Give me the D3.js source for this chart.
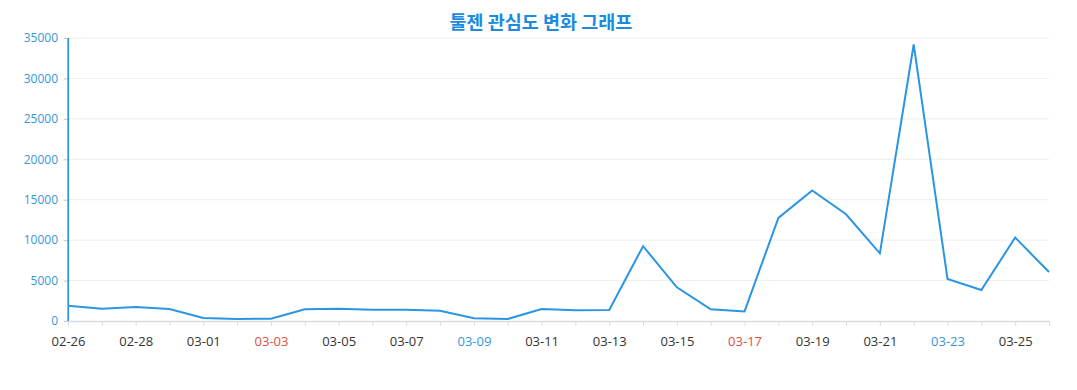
<!DOCTYPE html>
<html>
<head>
<meta charset="utf-8">
<script src="https://cdn.jsdelivr.net/npm/d3@7/dist/d3.min.js"></script>
<style>
  body { margin: 0; background: #fff; }
  svg { display: block; }
</style>
</head>
<body>
<svg id="chart" width="1077" height="390"></svg>
<script>
const titleText = "툴젠 관심도 변화 그래프";
const dates = ["02-26","02-27","02-28","02-29","03-01","03-02","03-03","03-04","03-05","03-06",
               "03-07","03-08","03-09","03-10","03-11","03-12","03-13","03-14","03-15","03-16",
               "03-17","03-18","03-19","03-20","03-21","03-22","03-23","03-24","03-25","03-26"];
const values = [1880,1520,1730,1480,370,260,280,1450,1500,1400,
                1380,1280,330,250,1480,1320,1370,9250,4170,1450,
                1180,12750,16150,13200,8370,34200,5200,3830,10320,6060];
const yTicks = [0,5000,10000,15000,20000,25000,30000,35000];
const redLabels = ["03-03","03-17"];
const blueLabels = ["03-09","03-23"];

const svg = d3.select("#chart");
const m = {left: 68, right: 1049, top: 38, bottom: 321};
const font = "'Open Sans', 'Noto Sans', sans-serif";

const x = d3.scalePoint().domain(dates).range([m.left, m.right]);
const y = d3.scaleLinear().domain([0, 35000]).range([m.bottom, m.top]);

// title
svg.append("text")
  .attr("x", 541).attr("y", 29)
  .attr("text-anchor", "middle")
  .attr("font-family", "'Noto Sans CJK KR', sans-serif")
  .attr("font-weight", "bold")
  .attr("font-size", 18.5)
  .attr("fill", "#1b8be0")
  .text(titleText);

// grid
svg.append("g").selectAll("line").data(yTicks.filter(d => d > 0)).join("line")
  .attr("x1", m.left).attr("x2", m.right)
  .attr("y1", d => y(d)).attr("y2", d => y(d))
  .attr("stroke", "#eeeeee").attr("stroke-width", 1);

// y axis
const yAxis = svg.append("g").attr("transform", `translate(${m.left},0)`)
  .call(d3.axisLeft(y).tickValues(yTicks).tickSize(4).tickPadding(6).tickFormat(d3.format("d")));
yAxis.select(".domain").attr("stroke", "#2f93dc").attr("stroke-width", 1.2);
yAxis.selectAll(".tick line").attr("stroke", "#c8c8c8");
yAxis.selectAll(".tick text")
  .attr("font-family", font).attr("font-size", 12).attr("fill", "#3597da");

// x axis
const xAxis = svg.append("g").attr("transform", `translate(0,${m.bottom})`)
  .call(d3.axisBottom(x).tickSize(5).tickSizeOuter(0).tickPadding(11)
    .tickFormat((d, i) => i % 2 === 0 ? d : ""));
xAxis.select(".domain").attr("stroke", "#dcdcdc").attr("stroke-width", 1.5);
xAxis.selectAll(".tick line").attr("stroke", "#dcdcdc");
xAxis.selectAll(".tick text")
  .attr("font-family", font).attr("font-size", 13)
  .attr("fill", d => redLabels.includes(d) ? "#e0503a" : blueLabels.includes(d) ? "#3597da" : "#333333");

// redraw y-axis line on top of x-axis
svg.append("line")
  .attr("x1", m.left).attr("x2", m.left)
  .attr("y1", m.top).attr("y2", m.bottom)
  .attr("stroke", "#2f93dc").attr("stroke-width", 1.2);

// line
const line = d3.line().x((d, i) => x(dates[i])).y(d => y(d));
svg.append("path").datum(values)
  .attr("d", line)
  .attr("fill", "none")
  .attr("stroke", "#2a95e3")
  .attr("stroke-width", 2)
  .attr("stroke-linejoin", "miter");
</script>
</body>
</html>
